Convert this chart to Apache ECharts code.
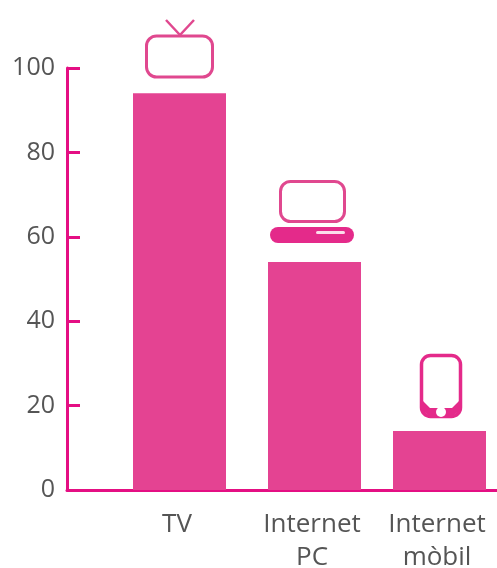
<!DOCTYPE html>
<html><head><meta charset="utf-8">
<style>html,body{margin:0;padding:0;background:#fff}#c{width:497px;height:568px}</style>
<script src="https://cdn.jsdelivr.net/npm/echarts@6/dist/echarts.min.js"></script>
</head><body><div id="c"></div>
<script>
const categories = ['TV', 'Internet\nPC', 'Internet\nmòbil'];
const values = [94, 54, 14];
const slots = [112.5, 247.5, 372.5];
const yTicks = [0, 20, 40, 60, 80, 100];

const PINK = '#e40f83', BAR = '#e44392', TXT = '#555555', FONT = 'Open Sans';
const chart = echarts.init(document.getElementById('c'), null, {renderer: 'canvas'});
const outline = {stroke: '#e0488f', fill: '#fff', lineWidth: 3};
const strong = {stroke: '#e42a8a', fill: '#fff', lineWidth: 3.5};
const graphic = [
  // TV
  {type: 'polyline', shape: {points: [[166, 20], [180, 35], [194, 20]]}, style: {stroke: '#e0488f', fill: null, lineWidth: 2.5}},
  {type: 'rect', shape: {x: 146.5, y: 36, width: 66, height: 41, r: 10}, style: outline},
  // PC
  {type: 'rect', shape: {x: 280.5, y: 181.5, width: 64, height: 40, r: 10}, style: outline},
  {type: 'rect', shape: {x: 270, y: 227, width: 84, height: 16, r: 8}, style: {fill: '#e42a8a'}},
  {type: 'rect', shape: {x: 316, y: 231, width: 29, height: 3, r: 1.5}, style: {fill: '#fbdcea'}},
  // Mobile
  {type: 'rect', shape: {x: 421.5, y: 355.5, width: 39, height: 61, r: 9}, style: strong},
  {type: 'polygon', shape: {points: [[423, 401], [430, 408], [452, 408], [459, 401], [459, 411], [453, 416], [429, 416], [423, 411]]}, style: {fill: '#e42a8a'}},
  {type: 'circle', shape: {cx: 441, cy: 412, r: 5}, style: {fill: '#fff'}}
];
chart.setOption({
  animation: false,
  grid: {left: 67, right: 0, top: 68, bottom: 78, outerBoundsMode: 'none'},
  xAxis: {
    type: 'value', min: 0, max: 430, interval: 430,
    splitLine: {show: false},
    axisLine: {show: true, onZero: false, lineStyle: {color: PINK, width: 3}},
    axisTick: {show: false},
    axisLabel: {
      show: true, customValues: slots, margin: 18, hideOverlap: false,
      fontFamily: FONT, fontSize: 26, color: TXT, lineHeight: 33, verticalAlign: 'top',
      padding: [0, 5, 0, 0],
      formatter: v => categories[slots.indexOf(v)] || ''
    }
  },
  yAxis: {
    type: 'value', min: 0, max: 100, interval: 20,
    splitLine: {show: false},
    axisLine: {show: true, lineStyle: {color: PINK, width: 3}},
    axisTick: {show: true, inside: true, length: 13, lineStyle: {color: PINK, width: 3}},
    axisLabel: {margin: 12, fontFamily: FONT, fontSize: 25, color: TXT, formatter: v => yTicks.includes(v) ? String(v) : ''}
  },
  series: [{
    type: 'bar', barWidth: 93, z: 1,
    itemStyle: {color: BAR},
    data: slots.map((s, i) => [s, values[i]])
  }],
  graphic
});
</script></body></html>
